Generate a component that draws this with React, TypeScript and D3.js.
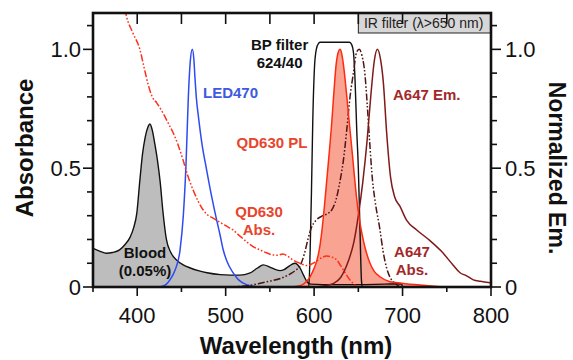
import * as d3 from 'd3';

// wavelength (nm), value
const bloodAbs: [number, number][] = [
  [350, 0.163], [358, 0.15], [365, 0.142], [372, 0.145], [380, 0.156], [386, 0.178], [392, 0.21],
  [396, 0.25], [399.5, 0.31], [403, 0.45], [406, 0.56], [409, 0.63], [412, 0.672], [414.4, 0.686],
  [417, 0.66], [420, 0.6], [423, 0.53], [426, 0.44], [429, 0.32], [433, 0.2], [438, 0.145],
  [445, 0.112], [452, 0.093], [460, 0.08], [470, 0.068], [479, 0.06], [494, 0.052], [505, 0.05],
  [516, 0.05], [527, 0.058], [536, 0.08], [542.5, 0.093], [550, 0.084], [556, 0.074], [561.5, 0.069],
  [566, 0.073], [571, 0.086], [578.4, 0.1], [584, 0.08], [588, 0.05], [592, 0.022], [596, 0.012],
  [610, 0.01], [650, 0.01], [680, 0.012], [699, 0.013], [700, 0],
];

const led470: [number, number][] = [
  [425, 0], [429.5, 0.004], [433, 0.012], [437, 0.03], [442.7, 0.07], [448.4, 0.155], [452.1, 0.3],
  [455.2, 0.52], [457.8, 0.8], [460, 0.95], [462.3, 1.0], [464, 0.96], [465.3, 0.88], [467, 0.79],
  [469.1, 0.72], [472.9, 0.61], [478.6, 0.49], [484.2, 0.38], [489.9, 0.28], [493.6, 0.22],
  [497, 0.16], [501.2, 0.11], [508.7, 0.058], [514, 0.032], [520, 0.016], [528, 0.005], [540, 0],
];

const qd630Abs: [number, number][] = [
  [386, 1.17], [388, 1.137], [395, 1.07], [403, 1.0], [408, 0.92], [412.5, 0.85], [417, 0.8],
  [422, 0.775], [429.5, 0.73], [435, 0.69], [440.5, 0.65], [446, 0.6], [451.8, 0.535], [457, 0.47],
  [463, 0.41], [469, 0.36], [474.4, 0.325], [480, 0.302], [485.7, 0.29], [493.6, 0.272], [500, 0.258],
  [508.3, 0.24], [515, 0.218], [523.8, 0.19], [531, 0.17], [538.8, 0.156], [546, 0.144], [553.5, 0.135],
  [559, 0.134], [564.8, 0.139], [570, 0.13], [576, 0.114], [584, 0.1], [592, 0.09], [601, 0.105],
  [608, 0.122], [614, 0.13], [620, 0.126], [625.6, 0.114], [630, 0.09], [635, 0.06], [640, 0.032],
  [644, 0.015], [648.5, 0],
];

const qd630PL: [number, number][] = [
  [575, 0], [586, 0.008], [591, 0.022], [595.4, 0.043], [599, 0.07], [603, 0.11], [606, 0.16],
  [608.6, 0.23], [612.4, 0.37], [616.5, 0.54], [619.5, 0.67], [622, 0.8], [625, 0.94], [627.5, 0.99],
  [629.3, 1.0], [631, 0.985], [633, 0.94], [637, 0.8], [640.6, 0.66], [643.5, 0.55], [646, 0.45],
  [648.2, 0.37], [651, 0.29], [653.8, 0.23], [658, 0.16], [663.2, 0.1], [668, 0.066], [674.5, 0.043],
  [685.8, 0.022], [699, 0.016], [720, 0.008], [745, 0],
];

const bpFilter: [number, number][] = [
  [580, 0], [594, 0], [595.5, 0.15], [597, 0.4], [598.5, 0.7], [600.5, 0.93], [602.5, 1.0],
  [605, 1.025], [607, 1.03], [640, 1.03], [642.5, 1.02], [644.4, 0.99], [646.3, 0.87], [648.2, 0.66],
  [650, 0.5], [652, 0.22], [653.5, 0.03], [654.5, 0], [670, 0],
];

const a647Abs: [number, number][] = [
  [500, 0], [524, 0.005], [537, 0.014], [550, 0.025], [562, 0.036], [573, 0.055], [579, 0.07],
  [584, 0.088], [589, 0.14], [593, 0.2], [597, 0.25], [602, 0.28], [610, 0.3], [616, 0.31],
  [620, 0.325], [625, 0.37], [629, 0.44], [633, 0.53], [636.9, 0.66], [640.6, 0.8], [644.4, 0.9],
  [648.2, 0.99], [651, 1.0], [654, 0.975], [657.6, 0.89], [660, 0.77], [663, 0.6], [666, 0.45],
  [669, 0.36], [674.5, 0.24], [678, 0.15], [682, 0.08], [686, 0.04], [690, 0.02], [697, 0],
];

const a647Em: [number, number][] = [
  [600, 0], [612, 0.005], [622, 0.015], [630, 0.04], [638.8, 0.11], [645, 0.19], [650, 0.3],
  [655, 0.44], [660, 0.62], [664, 0.8], [668, 0.95], [671.5, 1.0], [675, 0.96], [678.3, 0.86],
  [682, 0.65], [686.5, 0.46], [691, 0.38], [697, 0.34], [704.7, 0.28], [716, 0.24], [731, 0.195],
  [744, 0.15], [757, 0.093], [765, 0.06], [772, 0.048], [780, 0.03], [788, 0.024], [799, 0.018],
];

const xMajor = [400, 500, 600, 700, 800];
const xMinor = [350, 450, 550, 650, 750];
const yMajor = [0, 0.5, 1.0];
const yMinor = [0.1, 0.2, 0.3, 0.4, 0.6, 0.7, 0.8, 0.9, 1.1];
const yLabels = ['0', '0.5', '1.0'];

const annotations = [
  { lines: ['LED470'], nm: 474.4, v: 0.795, anchor: 'start', color: '#3d5ae0' },
  { lines: ['BP filter', '624/40'], nm: 561, v: 0.997, anchor: 'middle', color: '#111' },
  { lines: ['QD630 PL'], nm: 552.4, v: 0.585, anchor: 'middle', color: '#e8452c' },
  { lines: ['QD630', 'Abs.'], nm: 537.7, v: 0.2945, anchor: 'middle', color: '#e8452c' },
  { lines: ['A647 Em.'], nm: 689.2, v: 0.787, anchor: 'start', color: '#a3282a' },
  { lines: ['A647', 'Abs.'], nm: 710.7, v: 0.126, anchor: 'middle', color: '#a3282a' },
  { lines: ['Blood', '(0.05%)'], nm: 408.8, v: 0.122, anchor: 'middle', color: '#111' },
];

const W = 573;
const H = 360;
const FONT = '"Liberation Sans", Arial, Helvetica, sans-serif';

export default function App() {
  const x = d3.scaleLinear().domain([350, 800]).range([93, 491]);
  const y = d3.scaleLinear().domain([0, 1.153]).range([287, 13]);
  const [x0, x1] = x.range();
  const [yb, yt] = y.range();

  const line = d3
    .line<[number, number]>()
    .x((d) => x(d[0]))
    .y((d) => y(d[1]))
    .curve(d3.curveMonotoneX);
  const area = d3
    .area<[number, number]>()
    .x((d) => x(d[0]))
    .y0(y(0))
    .y1((d) => y(d[1]))
    .curve(d3.curveMonotoneX);

  const dashDotDot = '7,2,1.6,2,1.6,2';

  return (
    <svg
      width={W}
      height={H}
      style={{ position: 'absolute', left: 0, top: 0, background: '#fff' }}
      fontFamily={FONT}
    >
      <defs>
        <clipPath id="plot">
          <rect x={x0} y={yt} width={x1 - x0} height={yb - yt} />
        </clipPath>
      </defs>

      <g clipPath="url(#plot)">
        <path d={area(bloodAbs) ?? ''} fill="#bdbdbd" />
        <path d={area(qd630PL) ?? ''} fill="#f9a393" />
        <path d={line(bloodAbs) ?? ''} fill="none" stroke="#111" strokeWidth={1.4} />
        <path d={line(bpFilter) ?? ''} fill="none" stroke="#111" strokeWidth={1.4} />
        <path d={line(led470) ?? ''} fill="none" stroke="#2e4bf2" strokeWidth={1.5} />
        <path
          d={line(qd630Abs) ?? ''}
          fill="none"
          stroke="#ff2f1a"
          strokeWidth={1.5}
          strokeDasharray={dashDotDot}
        />
        <path
          d={line(a647Abs) ?? ''}
          fill="none"
          stroke="#4f1414"
          strokeWidth={1.5}
          strokeDasharray={dashDotDot}
        />
        <path d={line(a647Em) ?? ''} fill="none" stroke="#7f1a1a" strokeWidth={1.5} />
        <path d={line(qd630PL) ?? ''} fill="none" stroke="#ff2a10" strokeWidth={1.5} />
      </g>

      {/* IR filter band */}
      <rect x={x(650)} y={yt} width={x(800) - x(650)} height={20} fill="#d7d7d7" stroke="#222" strokeWidth={1} />
      <text x={(x(650) + x(800)) / 2 - 1} y={yt + 15} textAnchor="middle" fontSize={14} fill="#222">
        IR filter (λ&gt;650 nm)
      </text>

      {/* annotations */}
      {annotations.map((a, i) => (
        <text
          key={i}
          x={x(a.nm)}
          y={y(a.v)}
          textAnchor={a.anchor}
          fontSize={15}
          fontWeight="bold"
          fill={a.color}
        >
          {a.lines.map((t, j) => (
            <tspan key={j} x={x(a.nm)} dy={j === 0 ? 0 : 18}>
              {t}
            </tspan>
          ))}
        </text>
      ))}

      {/* ticks */}
      <g stroke="#111" strokeWidth={1.6}>
        {xMajor.map((t) => (
          <line key={'xb' + t} x1={x(t)} x2={x(t)} y1={yb} y2={yb + 9} />
        ))}
        {xMinor.map((t) => (
          <line key={'xm' + t} x1={x(t)} x2={x(t)} y1={yb} y2={yb + 5} />
        ))}
        {[...xMajor, ...xMinor].map((t) => (
          <line key={'xt' + t} x1={x(t)} x2={x(t)} y1={yt} y2={yt + 11} />
        ))}
        {yMajor.map((t) => (
          <g key={'ym' + t}>
            <line x1={x0 - 10} x2={x0} y1={y(t)} y2={y(t)} />
            <line x1={x1} x2={x1 + 10} y1={y(t)} y2={y(t)} />
          </g>
        ))}
        {yMinor.map((t) => (
          <g key={'yn' + t}>
            <line x1={x0 - 6} x2={x0} y1={y(t)} y2={y(t)} />
            <line x1={x1} x2={x1 + 6} y1={y(t)} y2={y(t)} />
          </g>
        ))}
      </g>

      {/* frame */}
      <rect x={x0} y={yt} width={x1 - x0} height={yb - yt} fill="none" stroke="#111" strokeWidth={2.6} />

      {/* tick labels */}
      <g fontSize={22} fill="#111">
        {xMajor.map((t) => (
          <text key={'lx' + t} x={x(t)} y={323} textAnchor="middle">
            {t}
          </text>
        ))}
        {yMajor.map((t, i) => (
          <g key={'ly' + t}>
            <text x={81} y={y(t) + 8} textAnchor="end">
              {yLabels[i]}
            </text>
            <text x={505} y={y(t) + 8} textAnchor="start">
              {yLabels[i]}
            </text>
          </g>
        ))}
      </g>

      {/* axis titles */}
      <g fontSize={24} fontWeight="bold" fill="#111">
        <text x={296} y={354} textAnchor="middle">
          Wavelength (nm)
        </text>
        <text transform="translate(33,148) rotate(-90)" textAnchor="middle">
          Absorbance
        </text>
        <text transform="translate(549,168) rotate(90)" textAnchor="middle" fontSize={23}>
          Normalized Em.
        </text>
      </g>
    </svg>
  );
}
